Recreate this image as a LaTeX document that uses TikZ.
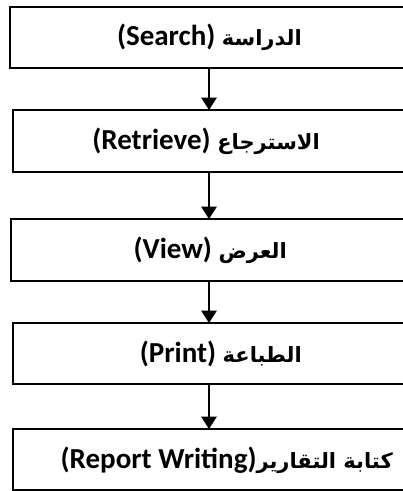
\documentclass[tikz,border=0pt]{standalone}
\usepackage{fontspec}
\setmainfont{Carlito}
\newfontfamily\arabicfont[Script=Arabic]{DejaVu Sans}
\TeXXeTstate=1
\usetikzlibrary{arrows.meta}
\tikzset{
  stepbox/.style={draw=black, line width=2pt, rectangle, inner sep=0pt, fill=none},
  steptext/.style={inner sep=0pt, anchor=east, font=\fontsize{29}{33}\selectfont\bfseries},
  flow/.style={draw=black, line width=2pt, -{Triangle[length=12.5pt,width=15.5pt]}, shorten >=-1pt}
}
\newcommand{\ar}[1]{{\arabicfont\bfseries\fontsize{21}{25}\selectfont #1}}
\begin{document}
\begin{tikzpicture}[x=1pt,y=-1pt]
\useasboundingbox (0,0) rectangle (403,491);
\fill[white] (0,0) rectangle (403,491);
\begin{scope}
\clip (0,0) rectangle (403,491);
\node[stepbox, minimum width=396pt, minimum height=61pt] (b1) at (208,37.5) {};
\node[stepbox, minimum width=393.5pt, minimum height=62pt] (b2) at (209.25,141) {};
\node[stepbox, minimum width=395pt, minimum height=62pt] (b3) at (208.5,250) {};
\node[stepbox, minimum width=393pt, minimum height=61pt] (b4) at (209.5,353.5) {};
\node[stepbox, minimum width=393pt, minimum height=61pt] (b5) at (209.5,459.5) {};
\end{scope}
\node[steptext] (t1) at (302,37) {(Search) \ar{\beginR الدراسة\endR}};
\node[steptext] (t2) at (320,141) {(Retrieve) \ar{\beginR الاسترجاع\endR}};
\node[steptext] (t3) at (287,250) {(View) \ar{\beginR العرض\endR}};
\node[steptext] (t4) at (302,354) {(Print) \ar{\beginR الطباعة\endR}};
\node[steptext] (t5) at (393,460) {(Report Writing)\ar{\beginR كتابة التقارير\endR}};
\coordinate (a1) at ([xshift=1pt]b1.south);
\coordinate (a2) at ([xshift=-0.25pt]b2.south);
\coordinate (a3) at ([xshift=0.5pt]b3.south);
\coordinate (a4) at ([xshift=-0.5pt]b4.south);
\draw[flow] (a1) -- (a1 |- b2.north);
\draw[flow] (a2) -- (a2 |- b3.north);
\draw[flow] (a3) -- (a3 |- b4.north);
\draw[flow] (a4) -- (a4 |- b5.north);
\end{tikzpicture}
\end{document}
